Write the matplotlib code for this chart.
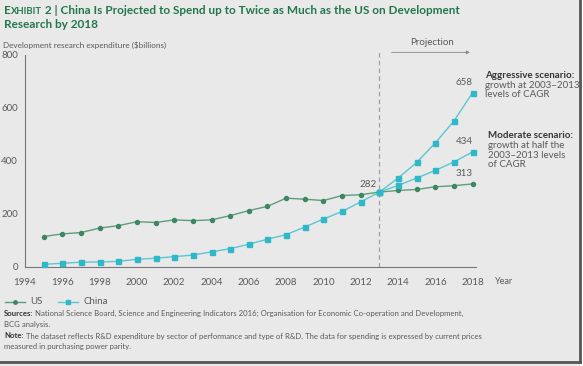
import numpy as np
import matplotlib.pyplot as plt
from matplotlib.patches import Rectangle

plt.rcParams['font.family'] = ['Lato', 'DejaVu Sans']

years = list(range(1995, 2019))
us = [114, 124, 129, 146, 155, 170, 167, 177, 174, 177, 193, 212, 228, 259,
      255, 250, 269, 272, 282, 288, 292, 302, 306, 313]
china_years = list(range(1995, 2014))
china = [9, 13, 17, 18, 20, 28, 32, 38, 44, 56, 68, 85, 104, 121,
         150, 180, 209, 245, 282]
proj_years = list(range(2013, 2019))
china_aggressive = [282, 335, 394, 468, 551, 658]
china_moderate = [282, 307, 335, 364, 396, 434]
xticks = list(range(1994, 2019, 2))
yticks = [0, 200, 400, 600, 800]

bg = '#e9e9e9'
green = '#5f9c7e'
green_mk = '#3e8763'
cyan = '#5cc6d3'
cyan_mk = '#2fb8c8'
grey_txt = '#5a5a5a'
title_green = '#23774d'

W, H = 583, 366
fig = plt.figure(figsize=(W / 100, H / 100), dpi=100)
fig.patch.set_facecolor('white')
fig.patches.append(Rectangle((0, 0), 580 / W, 1, transform=fig.transFigure,
                             facecolor=bg, edgecolor='none', zorder=-10))
# frame shadow on right and bottom
fig.add_artist(plt.Line2D([580 / W, 580 / W], [4 / H, 1], color='#555555', lw=2,
                          transform=fig.transFigure))
fig.add_artist(plt.Line2D([0, 580 / W], [4 / H, 4 / H], color='#555555', lw=2,
                          transform=fig.transFigure))

ax = fig.add_axes([25 / W, 1 - 266.7 / H, (476.4 - 25) / W, (266.7 - 55) / H])
ax.set_facecolor('none')
ax.set_xlim(1994, 2018.2)
ax.set_ylim(0, 800)
for s in ['top', 'right']:
    ax.spines[s].set_visible(False)
for s in ['left', 'bottom']:
    ax.spines[s].set_color('#777777')
    ax.spines[s].set_linewidth(0.8)
ax.set_xticks(xticks)
ax.set_yticks(yticks)
ax.tick_params(length=0, labelsize=7, labelcolor=grey_txt, pad=5)
ax.tick_params(axis='x', pad=8)

ax.plot(years, us, color=green, lw=1, marker='o', ms=2.9,
        mfc=green_mk, mec=green_mk, clip_on=False, zorder=3)
ax.plot(china_years, china, color=cyan, lw=1, marker='s', ms=3.6,
        mfc=cyan_mk, mec=cyan_mk, clip_on=False, zorder=3)
ax.plot(proj_years, china_aggressive, color=cyan, lw=1, marker='s', ms=3.6,
        mfc=cyan_mk, mec=cyan_mk, clip_on=False, zorder=3)
ax.plot(proj_years, china_moderate, color=cyan, lw=1, marker='s', ms=3.6,
        mfc=cyan_mk, mec=cyan_mk, clip_on=False, zorder=3)

# projection divider
ax.plot([2013, 2013], [0, 810], color='#999999', lw=0.8, ls=(0, (4, 3)), clip_on=False)
ax.annotate('', xy=(2018, 810), xytext=(2013.5, 810),
            arrowprops=dict(arrowstyle='-|>', color='#888888', lw=0.6,
                            mutation_scale=5), annotation_clip=False)
ax.text(2015.8, 830, 'Projection', fontsize=7, color=grey_txt, ha='center', va='bottom')

ax.text(2012.85, china[-1] + 12, '282', fontsize=7, color=grey_txt, ha='right', va='bottom')
ax.text(2018, china_aggressive[-1] + 22, '658', fontsize=7, color=grey_txt, ha='right', va='bottom')
ax.text(2018, china_moderate[-1] + 22, '434', fontsize=7, color=grey_txt, ha='right', va='bottom')
ax.text(2018, us[-1] + 22, '313', fontsize=7, color=grey_txt, ha='right', va='bottom')

fig.text(485 / W, 1 - 75 / H, 'Aggressive scenario:', fontsize=7, fontweight='bold',
         color='#333333', va='center')
fig.text(485 / W, 1 - 90 / H, 'growth at 2003–2013\nlevels of CAGR', fontsize=7,
         color=grey_txt, va='center', linespacing=1.05)
fig.text(488 / W, 1 - 135 / H, 'Moderate scenario:', fontsize=7, fontweight='bold',
         color='#333333', va='center')
fig.text(488 / W, 1 - 155 / H, 'growth at half the\n2003–2013 levels\nof CAGR', fontsize=7,
         color=grey_txt, va='center', linespacing=1.05)

fig.text(495 / W, 1 - 281 / H, 'Year', fontsize=6.5, color=grey_txt, va='center')
fig.text(3 / W, 1 - 45 / H, 'Development research expenditure ($billions)', fontsize=5.9,
         color=grey_txt, va='center')

# title with small caps "Exhibit"
tfs = 8.5
t1 = fig.text(4 / W, 1 - 10 / H, 'E', fontsize=tfs, fontweight='bold', color=title_green, va='center')
a2 = plt.annotate('XHIBIT', xy=(1, 0), xycoords=t1, fontsize=tfs * 0.8, fontweight='bold',
                  color=title_green, va='bottom', annotation_clip=False)
plt.annotate(' 2 | China Is Projected to Spend up to Twice as Much as the US on Development',
             xy=(1, 0), xycoords=a2, fontsize=tfs, fontweight='bold',
             color=title_green, va='bottom', annotation_clip=False)
fig.text(4 / W, 1 - 25 / H, 'Research by 2018', fontsize=tfs, fontweight='bold',
         color=title_green, va='center')

# legend
leg_y = 1 - 302 / H
fig.add_artist(plt.Line2D([5 / W, 25 / W], [leg_y, leg_y], color=green, lw=1,
                          transform=fig.transFigure))
fig.add_artist(plt.Line2D([15 / W], [leg_y], color=green_mk, marker='o', ms=2.5,
                          transform=fig.transFigure))
fig.text(30 / W, leg_y, 'US', fontsize=7, color=grey_txt, va='center')
fig.add_artist(plt.Line2D([58 / W, 78 / W], [leg_y, leg_y], color=cyan, lw=1,
                          transform=fig.transFigure))
fig.add_artist(plt.Line2D([68 / W], [leg_y], color=cyan_mk, marker='s', ms=2.5,
                          transform=fig.transFigure))
fig.text(83 / W, leg_y, 'China', fontsize=7, color=grey_txt, va='center')

# footnotes
fs = 5.55
s1 = fig.text(4 / W, 1 - 313 / H, 'Sources:', fontsize=fs, fontweight='bold', color='#333333', va='center')
plt.annotate(' National Science Board, Science and Engineering Indicators 2016; Organisation for Economic Co-operation and Development,',
             xy=(1, 0.5), xycoords=s1, fontsize=fs, color=grey_txt, va='center', annotation_clip=False)
fig.text(4 / W, 1 - 324 / H, 'BCG analysis.', fontsize=fs, color=grey_txt, va='center')
s2 = fig.text(4 / W, 1 - 336 / H, 'Note:', fontsize=fs, fontweight='bold', color='#333333', va='center')
plt.annotate(' The dataset reflects R&D expenditure by sector of performance and type of R&D. The data for spending is expressed by current prices',
             xy=(1, 0.5), xycoords=s2, fontsize=fs, color=grey_txt, va='center', annotation_clip=False)
fig.text(4 / W, 1 - 347 / H, 'measured in purchasing power parity.', fontsize=fs, color=grey_txt, va='center')

fig.savefig('out.png', dpi=100, facecolor=fig.get_facecolor())
